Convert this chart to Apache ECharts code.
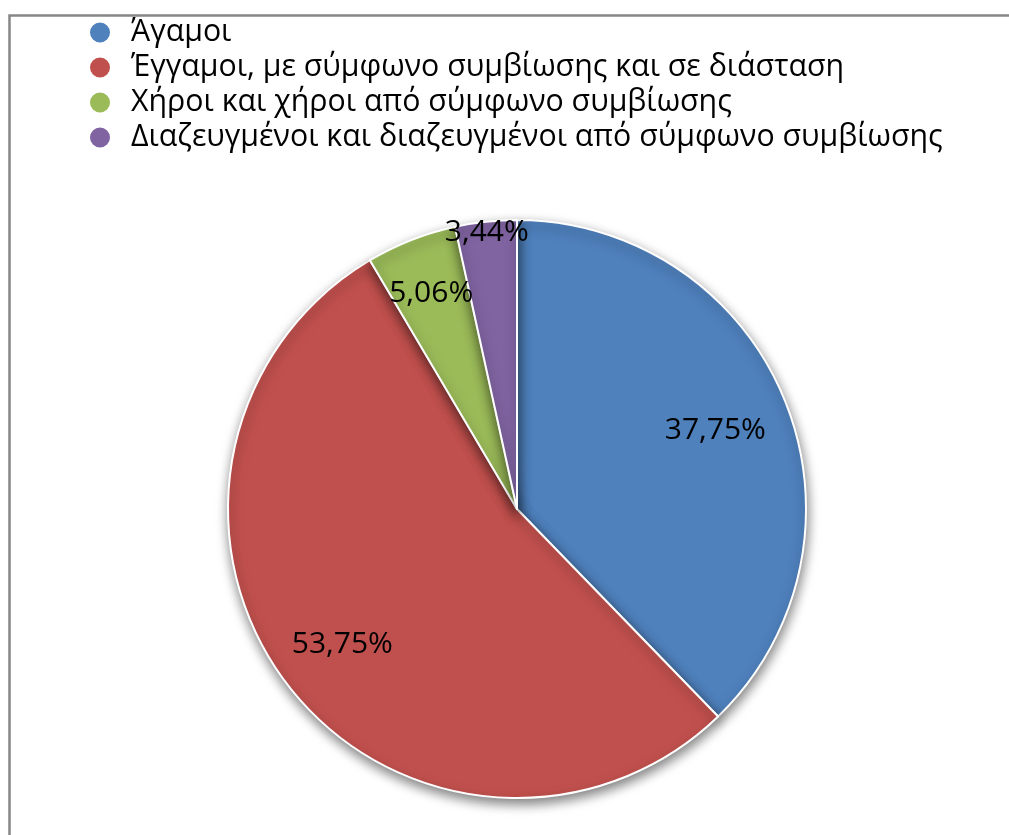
<!DOCTYPE html>
<html>
<head>
	<meta charset="utf-8">
	<title>Οικογενειακή κατάσταση</title>
	<script src="https://cdn.jsdelivr.net/npm/echarts@6/dist/echarts.min.js"></script>
	<style type="text/css">
		html, body { margin: 0; padding: 0; background: #fff; }
		#main { width: 1009px; height: 835px; }
	</style>
</head>
<body>
<div id="main"></div>
<script type="text/javascript">

	// ===========================================  δεδομένα
	var categories = [
		'Άγαμοι',
		'Έγγαμοι, με σύμφωνο συμβίωσης και σε διάσταση',
		'Χήροι και χήροι από σύμφωνο συμβίωσης',
		'Διαζευγμένοι και διαζευγμένοι από σύμφωνο συμβίωσης'
	];
	var shares = [37.75, 53.75, 5.06, 3.44]; // %

	var colorList = ['#4F81BD', '#C0504D', '#9BBB59', '#8064A2'];
	var labelRadius = [0.73, 0.75, 0.8, 0.96]; // θέση ετικέτας ως ποσοστό της ακτίνας
	var pieRadius = 289;

	var total = shares.reduce(function (a, b) { return a + b; }, 0);

	var myChart = echarts.init(document.getElementById('main'));
	var option = {
		animation: false,
		color: colorList,
		graphic: [{
			type: 'rect',
			left: 7, top: 13,
			shape: { width: 1200, height: 1000 },
			style: { fill: 'none', stroke: '#878787', lineWidth: 2.5 },
			silent: true
		}],
		legend: {
			orient: 'vertical',
			left: 88,
			top: 15,
			padding: 0,
			itemGap: 0,
			icon: 'circle',
			itemWidth: 22,
			itemHeight: 22,
			selectedMode: false,
			textStyle: {
				fontFamily: 'Open Sans',
				fontSize: 30.3,
				color: '#000',
				lineHeight: 35,
				padding: [0, 0, 0, 15]
			},
			data: categories
		},
		series: [{
			name: 'Οικογενειακή κατάσταση',
			type: 'pie',
			center: [517, 509],
			radius: pieRadius,
			startAngle: 90,
			clockwise: true,
			data: categories.map(function (c, i) {
				return { name: c, value: shares[i] };
			}),
			itemStyle: {
				borderColor: '#fff',
				borderWidth: 2,
				shadowBlur: 12,
				shadowOffsetX: 1,
				shadowOffsetY: 5,
				shadowColor: 'rgba(0,0,0,0.5)'
			},
			label: {
				show: true,
				position: 'inside',
				fontFamily: 'Open Sans',
				fontSize: 30,
				color: '#000',
				formatter: function (p) {
					return p.value.toFixed(2).replace('.', ',') + '%';
				}
			},
			labelLine: { show: false },
			emphasis: { disabled: true },
			labelLayout: function (params) {
				// μετακίνηση της ετικέτας κατά μήκος της ακτίνας
				var i = params.dataIndex;
				var cum = 0;
				for (var k = 0; k < i; k++) cum += shares[k];
				var theta = 2 * Math.PI * (cum + shares[i] / 2) / total;
				var shift = (labelRadius[i] - 0.5) * pieRadius;
				return {
					dx: shift * Math.sin(theta),
					dy: -shift * Math.cos(theta) + 2,
					hideOverlap: false
				};
			}
		}]
	};
	myChart.setOption(option);

	window.onresize = function () {
		myChart.resize();
	};
</script>
</body>
</html>
